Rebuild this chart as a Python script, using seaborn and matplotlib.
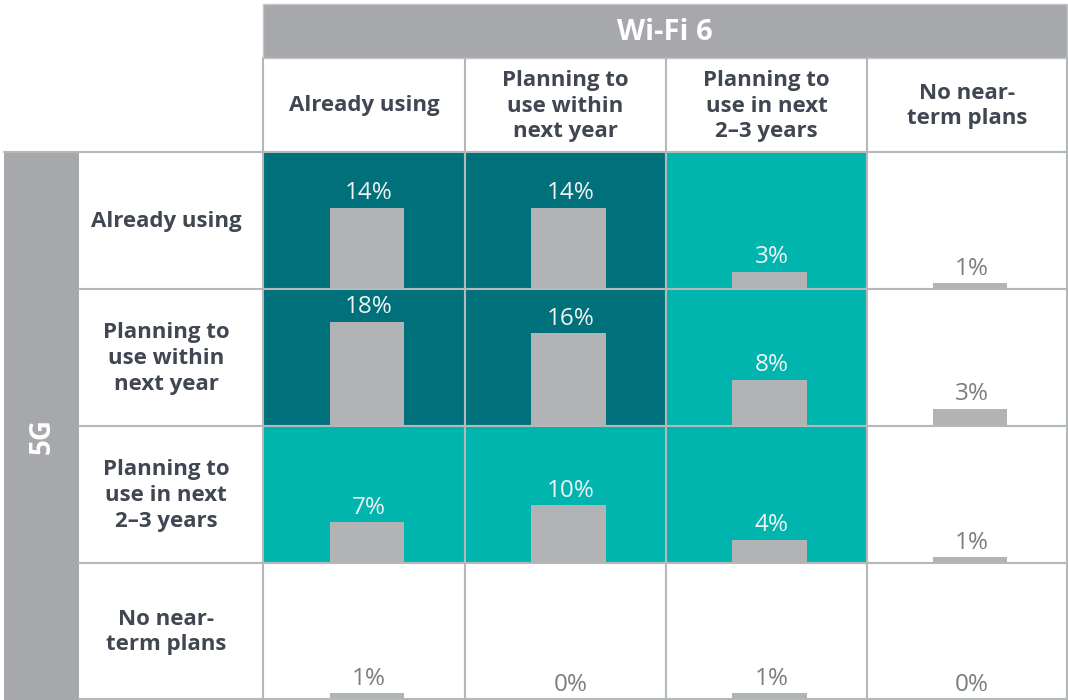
import numpy as np
import pandas as pd
import matplotlib
matplotlib.use("Agg")
import matplotlib.pyplot as plt
import seaborn as sns
from matplotlib.patches import Rectangle

sns.set_theme(style="white")
plt.rcParams['font.family'] = ['Open Sans', 'DejaVu Sans']

# adoption stages (rows = 5G, columns = Wi-Fi 6)
stages = ["Already using", "Planning to\nuse within\nnext year",
          "Planning to\nuse in next\n2\u20133 years", "No near-\nterm plans"]
row_title = "5G"
col_title = "Wi-Fi 6"

# share of respondents (%) per 5G row / Wi-Fi 6 column
share = [
    [14, 14, 3, 1],
    [18, 16, 8, 3],
    [7, 10, 4, 1],
    [1, 0, 1, 0],
]
# cell group: 0 = both early, 1 = adjacent, 2 = no plans
group = [
    [0, 0, 1, 2],
    [0, 0, 1, 2],
    [1, 1, 1, 2],
    [2, 2, 2, 2],
]

cell_colors = {0: "#00707a", 1: "#00b5ae", 2: "#ffffff"}
label_colors = {0: "#f2f2f2", 1: "#f2f2f2", 2: "#7a7d80"}
bar_gray = "#b1b3b4"
header_gray = "#a6a8ab"
line_gray = "#b5b8b9"
text_dark = "#404652"

rows = []
for i, r in enumerate(stages):
    for j, c in enumerate(stages):
        rows.append({"g5": i, "wifi": j, "share": share[i][j], "group": group[i][j]})
df = pd.DataFrame(rows)

W, H = 1068, 700
fig = plt.figure(figsize=(W / 100, H / 100), dpi=100)

# layout in pixels
col_edges = [263, 465, 666, 867, 1067]
row_edges = [152, 289, 426, 563, 699]
px_per_unit = 5.8

bg = fig.add_axes([0, 0, 1, 1])
bg.set_xlim(0, W)
bg.set_ylim(H, 0)
bg.axis("off")

# header bands
bg.add_patch(Rectangle((263, 4), 804, 54, fc=header_gray, ec="#c4c6c7", lw=1))
bg.text((263 + 1067) / 2, 32, col_title, ha="center", va="center",
        fontsize=21, fontweight="bold", color="white")
bg.add_patch(Rectangle((4, 152), 75, 548, fc=header_gray, ec="none"))
bg.text(42, 436, row_title, ha="center", va="center", rotation=90,
        fontsize=20, fontweight="bold", color="white")

# header grid lines
for x in col_edges:
    bg.plot([x, x], [58, 152], color=line_gray, lw=1.5)
bg.plot([4, 1067], [152, 152], color=line_gray, lw=1.5)
for y in row_edges[1:]:
    bg.plot([79, 263], [y, y], color=line_gray, lw=1.5)

# column and row headers
for j, lab in enumerate(stages):
    xc = (col_edges[j] + col_edges[j + 1]) / 2
    bg.text(xc, 106, lab, ha="center", va="center", fontsize=16,
            fontweight="bold", color=text_dark, linespacing=1.3)
for i, lab in enumerate(stages):
    yc = (row_edges[i] + row_edges[i + 1]) / 2
    bg.text(166, yc + 1, lab, ha="center", va="center", fontsize=16,
            fontweight="bold", color=text_dark, linespacing=1.3)

# one small bar chart per cell
for i in range(len(stages)):
    for j in range(len(stages)):
        sub = df[(df["g5"] == i) & (df["wifi"] == j)]
        g = sub["group"].iloc[0]
        v = sub["share"].iloc[0]
        x0, x1 = col_edges[j], col_edges[j + 1]
        y0, y1 = row_edges[i], row_edges[i + 1]
        ax = fig.add_axes([x0 / W, 1 - y1 / H, (x1 - x0) / W, (y1 - y0) / H])
        ax.set_facecolor(cell_colors[g])
        sns.barplot(data=sub, x="wifi", y="share", color=bar_gray,
                    saturation=1, width=0.37, ax=ax, errorbar=None,
                    linewidth=0)
        ax.set_xlim(-0.515, 0.485)
        ax.set_ylim(0, (y1 - y0) / px_per_unit)
        ax.text(0.01, v + 1.45, f"{v}%", ha="center", va="baseline",
                fontsize=17.5, color=label_colors[g])
        ax.set_xticks([])
        ax.set_yticks([])
        ax.set_xlabel("")
        ax.set_ylabel("")
        for s in ax.spines.values():
            s.set_visible(True)
            s.set_color(line_gray)
            s.set_linewidth(1.5)

fig.savefig("out.png", dpi=100)
